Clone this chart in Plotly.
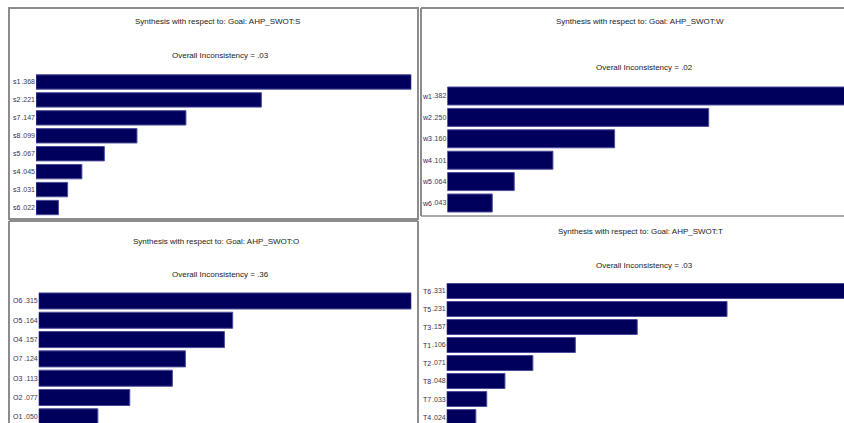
import plotly.graph_objects as go

W, H = 844, 423

# ---- data ----
s_cats = ["s1", "s2", "s7", "s8", "s5", "s4", "s3", "s6"]
s_vals = [0.368, 0.221, 0.147, 0.099, 0.067, 0.045, 0.031, 0.022]
w_cats = ["w1", "w2", "w3", "w4", "w5", "w6"]
w_vals = [0.382, 0.250, 0.160, 0.101, 0.064, 0.043]
o_cats = ["O6", "O5", "O4", "O7", "O3", "O2", "O1"]
o_vals = [0.315, 0.164, 0.157, 0.124, 0.113, 0.077, 0.050]
t_cats = ["T6", "T5", "T3", "T1", "T2", "T8", "T7", "T4"]
t_vals = [0.331, 0.231, 0.157, 0.106, 0.071, 0.048, 0.033, 0.024]

titles = ["Synthesis with respect to: Goal: AHP_SWOT:S",
          "Synthesis with respect to: Goal: AHP_SWOT:W",
          "Synthesis with respect to: Goal: AHP_SWOT:O",
          "Synthesis with respect to: Goal: AHP_SWOT:T"]
inconsist = ["Overall Inconsistency = .03", "Overall Inconsistency = .02",
             "Overall Inconsistency = .36", "Overall Inconsistency = .03"]

FONT = "Liberation Sans Narrow, Arial Narrow, Liberation Sans, Arial, sans-serif"
BAR = "#00005c"
EDGE = "#4a4a9a"
LBL = 7

def px(x):
    return x / W

def py(y):
    return 1 - y / H

def fmt(v):
    return ("%.3f" % v)[1:]

# panel geometry in screen pixels
panels = [
    dict(cats=s_cats, vals=s_vals, x0=36.0, x1=411.3, yt=73.0, yb=216.5, xr=0.368, yr=len(s_cats) - 0.5, bw=0.8,
         tx=217, ty=22, ix=220, iy=56, lx=11),
    dict(cats=w_cats, vals=w_vals, x0=447.3, x1=844, yt=85.3, yb=213.7, xr=0.3794, yr=len(w_cats) - 0.5, bw=0.84,
         tx=640, ty=22, ix=644, iy=67, lx=419.5),
    dict(cats=o_cats, vals=o_vals, x0=38.7, x1=411.3, yt=291.3, yb=423, xr=0.315, yr=6.32, bw=0.83,
         tx=216, ty=241, ix=220, iy=274, lx=10.5),
    dict(cats=t_cats, vals=t_vals, x0=446.7, x1=844, yt=282.0, yb=423, xr=0.3274, yr=7.33, bw=0.83,
         tx=640, ty=231, ix=644, iy=265, lx=420.5),
]

fig = go.Figure()
annotations = []
for i, p in enumerate(panels):
    n = "" if i == 0 else str(i + 1)
    fig.add_trace(go.Bar(
        x=p["vals"], y=p["cats"], orientation="h",
        xaxis="x" + n, yaxis="y" + n, width=p["bw"],
        marker=dict(color=BAR, line=dict(color=EDGE, width=1)),
        hoverinfo="x+y", showlegend=False,
    ))
    fig.layout["xaxis" + n] = dict(
        domain=[px(p["x0"]), px(p["x1"])], range=[0, p["xr"]],
        anchor="y" + n, visible=False, fixedrange=True,
    )
    fig.layout["yaxis" + n] = dict(
        domain=[py(p["yb"]), py(p["yt"])], range=[p["yr"], -0.5],
        anchor="x" + n, type="category",
        categoryorder="array", categoryarray=p["cats"],
        tickvals=p["cats"],
        ticktext=[fmt(v) for v in p["vals"]],
        tickfont=dict(family=FONT, size=LBL, color="#3a3a4a"),
        ticks="", ticklen=0, showline=False, showgrid=False, zeroline=False,
        fixedrange=True,
    )
    for c in p["cats"]:
        annotations.append(dict(x=px(p["lx"]), y=c, xref="paper", yref="y" + n,
                                text=c, showarrow=False, xanchor="left", yanchor="middle",
                                font=dict(family=FONT, size=LBL, color="#2a2a5a")))
    annotations.append(dict(x=px(p["tx"]), y=py(p["ty"]), xref="paper", yref="paper",
                            text=titles[i], showarrow=False, xanchor="center", yanchor="middle",
                            font=dict(family=FONT, size=8, color="#1a1a1a")))
    annotations.append(dict(x=px(p["ix"]), y=py(p["iy"]), xref="paper", yref="paper",
                            text=inconsist[i], showarrow=False, xanchor="center", yanchor="middle",
                            font=dict(family=FONT, size=8, color="#1a1a1a")))

GRAY = "#8c8c8c"
def line(x0, y0, x1, y1, w=2):
    return dict(type="line", xref="paper", yref="paper", x0=px(x0), x1=px(x1), y0=py(y0), y1=py(y1),
                line=dict(color=GRAY, width=w), layer="below")

shapes = [
    # top-left panel border
    dict(type="rect", xref="paper", yref="paper", x0=px(9), x1=px(418), y0=py(219), y1=py(8),
         line=dict(color=GRAY, width=2), layer="below"),
    # top-right panel border
    line(421, 216, 421, 8), line(421, 8, 844, 8), line(421, 216, 844, 216, 1.5),
    # bottom-left panel border
    line(9, 423, 9, 221), line(9, 221, 418, 221), line(418, 423, 418, 221),
]

fig.update_layout(
    width=W, height=H, margin=dict(l=0, r=0, t=0, b=0),
    paper_bgcolor="white", plot_bgcolor="white",
    annotations=annotations, shapes=shapes, bargap=0.2,
    font=dict(family=FONT),
)

fig.write_html("out.html", config={"displayModeBar": False},
               post_script="document.body.style.margin='0';document.body.style.overflow='hidden';")
